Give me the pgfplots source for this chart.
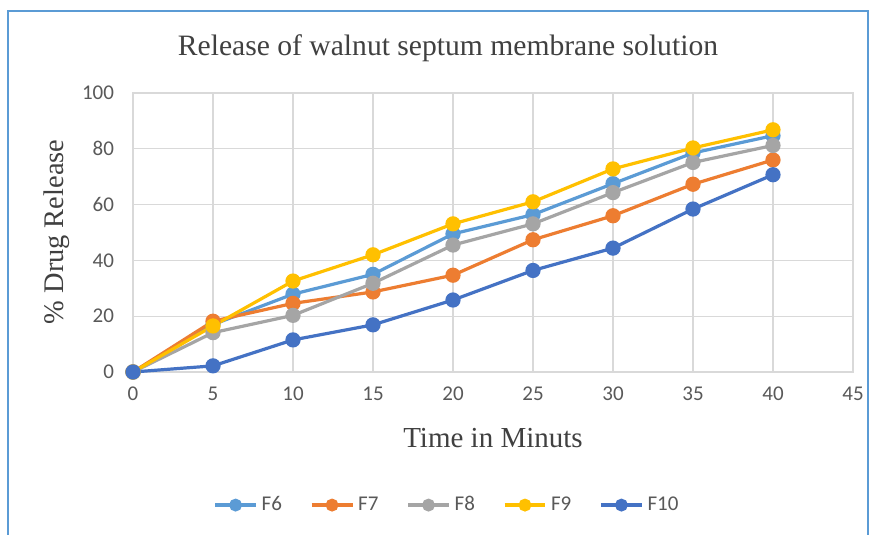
\documentclass[border=0pt]{standalone}
\usepackage{fontspec}
\setmainfont{Liberation Serif}
\newfontfamily\carlito{Carlito}
\usepackage{pgfplots}
\pgfplotsset{compat=1.18}
\definecolor{cF6}{HTML}{5B9BD5}
\definecolor{cF7}{HTML}{ED7D31}
\definecolor{cF8}{HTML}{A5A5A5}
\definecolor{cF9}{HTML}{FFC000}
\definecolor{cF10}{HTML}{4472C4}
\definecolor{gridgray}{HTML}{D9D9D9}
\definecolor{labelgray}{HTML}{595959}
\definecolor{frameblue}{HTML}{5B9BD5}
\begin{document}
\begin{tikzpicture}
\useasboundingbox (0,0) rectangle (439pt,267.5pt);
\fill[white] (0,0) rectangle (439pt,267.5pt);
\draw[frameblue, line width=1pt] (4pt,0pt) -- (4pt,262pt) -- (434pt,262pt) -- (434pt,0pt);
\begin{axis}[
  at={(66.5pt,81.5pt)}, anchor=south west,
  scale only axis, width=360pt, height=139.5pt,
  xmin=0, xmax=45, ymin=0, ymax=100,
  xtick={0,5,...,45}, ytick={0,20,...,100},
  grid=major,
  major grid style={color=gridgray, line width=0.6pt},
  axis line style={gridgray, line width=0.6pt},
  tick style={draw=none},
  tick label style={font=\carlito\fontsize{10.5}{12}\selectfont, text=labelgray},
  /pgf/number format/assume math mode=true,
  xticklabel style={yshift=-4pt},
  yticklabel style={xshift=-6pt},
  clip=false,
  every axis plot/.append style={line width=1.6pt, mark=*, mark size=3pt, mark options={solid}},
  legend columns=5,
  legend style={at={(0.4375,-0.477)}, anchor=center, draw=none, fill=none,
    font=\carlito\fontsize{10.5}{12}\selectfont, text=labelgray,
    /tikz/every even column/.append style={column sep=12pt},
    inner sep=0pt},
  legend image code/.code={
    \draw[mark repeat=2,mark phase=2,mark size=2.4pt] plot coordinates {(0cm,0cm) (0.36cm,0cm) (0.72cm,0cm)};
  },
]
\addplot[color=cF6] coordinates {(0,0) (5,17) (10,27.9) (15,35) (20,49.5) (25,56.4) (30,67.5) (35,78.5) (40,84.7)};
\addplot[color=cF7] coordinates {(0,0) (5,18.2) (10,24.6) (15,28.7) (20,34.7) (25,47.4) (30,56) (35,67.3) (40,76)};
\addplot[color=cF8] coordinates {(0,0) (5,14.1) (10,20.3) (15,31.8) (20,45.5) (25,53.1) (30,64.3) (35,75.1) (40,81.2)};
\addplot[color=cF9] coordinates {(0,0) (5,16.5) (10,32.6) (15,42) (20,53.1) (25,61) (30,72.8) (35,80.3) (40,86.8)};
\addplot[color=cF10] coordinates {(0,0) (5,2.2) (10,11.5) (15,16.9) (20,25.8) (25,36.4) (30,44.4) (35,58.4) (40,70.7)};
\legend{F6,F7,F8,F9,F10}
\end{axis}
\node[text=black!75, font=\fontsize{14.8}{17}\selectfont] at (224pt,243.5pt) {Release of walnut septum membrane solution};
\node[text=black!75, font=\fontsize{14.2}{17}\selectfont, rotate=90] at (28.5pt,151.5pt) {\% Drug Release};
\node[text=black!75, font=\fontsize{14.5}{17}\selectfont] at (246.5pt,48.5pt) {Time in Minuts};
\end{tikzpicture}
\end{document}
